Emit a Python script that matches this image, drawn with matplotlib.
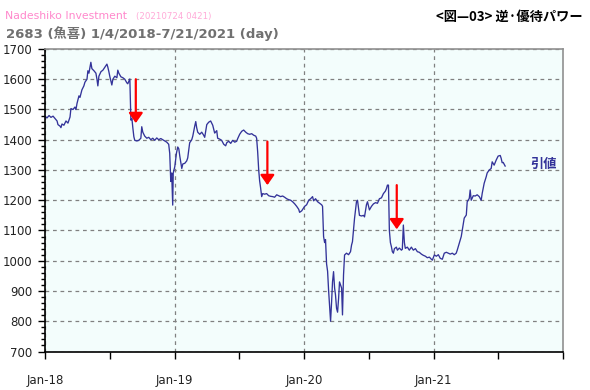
import matplotlib.pyplot as plt
import matplotlib.ticker as mtick

plt.rcParams['font.family'] = ['DejaVu Sans', 'Noto Sans CJK JP']

# Daily close (time in decimal years)
t_2018 = [2018.000, 2018.015, 2018.031, 2018.046, 2018.062, 2018.077, 2018.093, 2018.100, 2018.116, 2018.123,
          2018.131, 2018.146, 2018.162, 2018.177, 2018.193, 2018.200, 2018.216, 2018.231, 2018.239, 2018.247,
          2018.262, 2018.270, 2018.285, 2018.300, 2018.308, 2018.324, 2018.331, 2018.339, 2018.354, 2018.362,
          2018.378, 2018.393, 2018.401, 2018.408, 2018.416, 2018.432, 2018.447, 2018.462, 2018.478, 2018.485,
          2018.493, 2018.501, 2018.516, 2018.524, 2018.539, 2018.555, 2018.562, 2018.570, 2018.586, 2018.601,
          2018.616, 2018.632, 2018.639, 2018.655, 2018.663, 2018.671, 2018.678, 2018.686, 2018.693, 2018.709,
          2018.724, 2018.740, 2018.747, 2018.755, 2018.770, 2018.786, 2018.801, 2018.817, 2018.832, 2018.847,
          2018.863, 2018.878, 2018.894, 2018.909, 2018.924, 2018.940, 2018.955, 2018.963, 2018.971, 2018.978,
          2018.986, 2018.990]
p_2018 = [1478, 1472, 1480, 1474, 1478, 1470, 1462, 1450, 1445, 1440,
          1452, 1448, 1462, 1455, 1475, 1503, 1500, 1508, 1500, 1520,
          1545, 1540, 1565, 1578, 1590, 1600, 1628, 1620, 1656, 1635,
          1628, 1620, 1600, 1578, 1610, 1625, 1630, 1640, 1650, 1640,
          1625, 1608, 1581, 1600, 1610, 1605, 1630, 1620, 1608, 1605,
          1600, 1588, 1585, 1601, 1465, 1470, 1440, 1410, 1398, 1396,
          1398, 1405, 1443, 1425, 1412, 1405, 1408, 1400, 1405, 1398,
          1406, 1400, 1404, 1400, 1396, 1392, 1385, 1355, 1262, 1290,
          1184, 1290]

t_2019 = [2019.002, 2019.015, 2019.025, 2019.033, 2019.041, 2019.056, 2019.064, 2019.079, 2019.094, 2019.102,
          2019.117, 2019.133, 2019.141, 2019.156, 2019.164, 2019.171, 2019.179, 2019.195, 2019.210, 2019.225,
          2019.233, 2019.249, 2019.264, 2019.279, 2019.287, 2019.295, 2019.310, 2019.326, 2019.333, 2019.349,
          2019.364, 2019.380, 2019.395, 2019.403, 2019.418, 2019.434, 2019.449, 2019.465, 2019.480, 2019.488,
          2019.503, 2019.519, 2019.534, 2019.550, 2019.565, 2019.580, 2019.596, 2019.611, 2019.627, 2019.634,
          2019.642, 2019.650, 2019.657, 2019.665, 2019.673, 2019.681, 2019.696, 2019.711, 2019.727, 2019.742,
          2019.758, 2019.773, 2019.789, 2019.804, 2019.819, 2019.835, 2019.850, 2019.866, 2019.881, 2019.897,
          2019.912, 2019.928, 2019.943, 2019.959, 2019.966, 2019.982, 2019.997]
p_2019 = [1311, 1356, 1376, 1370, 1345, 1305, 1320, 1322, 1330, 1340,
          1390, 1400, 1412, 1445, 1460, 1440, 1425, 1418, 1425, 1415,
          1408, 1450, 1458, 1462, 1455, 1448, 1422, 1430, 1405, 1402,
          1398, 1385, 1380, 1390, 1395, 1388, 1398, 1392, 1395, 1404,
          1418, 1428, 1432, 1425, 1420, 1418, 1420, 1415, 1412, 1405,
          1360, 1300, 1265, 1240, 1212, 1222, 1220, 1222, 1215, 1213,
          1212, 1210, 1218, 1215, 1212, 1214, 1210, 1205, 1202, 1200,
          1195, 1188, 1180, 1170, 1160, 1165, 1175]

t_2020 = [2020.005, 2020.020, 2020.036, 2020.051, 2020.066, 2020.074, 2020.089, 2020.105, 2020.120, 2020.136,
          2020.143, 2020.151, 2020.159, 2020.166, 2020.174, 2020.182, 2020.190, 2020.197, 2020.205, 2020.213,
          2020.220, 2020.228, 2020.236, 2020.243, 2020.251, 2020.259, 2020.267, 2020.274, 2020.290, 2020.297,
          2020.305, 2020.313, 2020.328, 2020.344, 2020.359, 2020.367, 2020.374, 2020.390, 2020.405, 2020.413,
          2020.428, 2020.444, 2020.459, 2020.467, 2020.482, 2020.490, 2020.505, 2020.521, 2020.536, 2020.552,
          2020.567, 2020.582, 2020.598, 2020.613, 2020.628, 2020.636, 2020.644, 2020.652, 2020.659, 2020.667,
          2020.675, 2020.682, 2020.690, 2020.698, 2020.713, 2020.721, 2020.736, 2020.752, 2020.759, 2020.767,
          2020.775, 2020.782, 2020.798, 2020.813, 2020.829, 2020.844, 2020.860, 2020.875, 2020.890, 2020.906,
          2020.921, 2020.937, 2020.952, 2020.968, 2020.983, 2020.991]
p_2020 = [1180, 1185, 1200, 1205, 1212, 1198, 1205, 1195, 1190, 1185,
          1180, 1080, 1060, 1070, 990, 965, 900, 855, 800, 865,
          930, 964, 910, 887, 843, 830, 876, 930, 910, 821,
          953, 1019, 1025, 1020, 1030, 1052, 1063, 1140, 1195, 1200,
          1150, 1148, 1150, 1145, 1185, 1195, 1168, 1180, 1188, 1192,
          1190, 1205, 1208, 1222, 1230, 1238, 1250, 1250, 1100, 1060,
          1046, 1030, 1025, 1040, 1045, 1035, 1042, 1035, 1038, 1118,
          1060, 1041, 1045, 1035, 1045, 1035, 1040, 1030, 1028, 1022,
          1018, 1015, 1010, 1012, 1005, 1002]

t_2021 = [2021.006, 2021.022, 2021.037, 2021.052, 2021.068, 2021.083, 2021.099, 2021.114, 2021.129, 2021.145,
          2021.160, 2021.175, 2021.183, 2021.199, 2021.214, 2021.222, 2021.237, 2021.253, 2021.260, 2021.276,
          2021.283, 2021.291, 2021.307, 2021.322, 2021.337, 2021.353, 2021.368, 2021.376, 2021.391, 2021.407,
          2021.414, 2021.430, 2021.445, 2021.453, 2021.468, 2021.484, 2021.499, 2021.515, 2021.522, 2021.530,
          2021.538, 2021.553]
p_2021 = [1019, 1015, 1020, 1008, 1005, 1025, 1028, 1025, 1022, 1025,
          1020, 1025, 1035, 1058, 1080, 1102, 1141, 1151, 1195, 1206,
          1234, 1200, 1215, 1214, 1218, 1212, 1200, 1223, 1256, 1278,
          1290, 1300, 1305, 1327, 1316, 1333, 1346, 1348, 1339, 1324,
          1325, 1313]

t = t_2018 + t_2019 + t_2020 + t_2021
price = p_2018 + p_2019 + p_2020 + p_2021

# red arrows: ex-dividend drops
arrow_t = [2018.701, 2019.717, 2020.716]
arrow_from = [1600, 1394, 1250]
arrow_to = [1455, 1250, 1104]

x_ticks = [2018, 2019, 2020, 2021]
x_labels = ['Jan-18', 'Jan-19', 'Jan-20', 'Jan-21']

fig = plt.figure(figsize=(5.9, 3.9), dpi=100)
ax = fig.add_axes([0.0763, 0.0987, 0.8780, 0.7757])
ax.set_facecolor('#f3fdfc')

ax.plot(t, price, color='#333399', lw=0.95)

for xa, y0, y1 in zip(arrow_t, arrow_from, arrow_to):
    ax.annotate('', xy=(xa, y1), xytext=(xa, y0),
                arrowprops=dict(arrowstyle='-|>,head_length=0.6,head_width=0.42',
                                color='#ff0000', lw=1.6, shrinkA=0, shrinkB=0))

ax.set_xlim(2018, 2022)
ax.set_ylim(700, 1700)
ax.set_xticks(x_ticks)
ax.set_xticklabels(x_labels)
ax.xaxis.set_minor_locator(mtick.FixedLocator([2018.5, 2019.5, 2020.5, 2021.5, 2022]))
ax.yaxis.set_major_locator(mtick.MultipleLocator(100))
ax.yaxis.set_minor_locator(mtick.MultipleLocator(20))

ax.tick_params(axis='both', which='both', direction='out', colors='black', labelcolor='#222222', labelsize=8.5)
ax.tick_params(axis='y', which='major', length=5, width=1, pad=4)
ax.tick_params(axis='y', which='minor', length=3, width=1)
ax.tick_params(axis='x', which='both', length=5, width=1, pad=11)

ax.grid(True, which='major', color='#808080', linestyle=(0, (3, 3)), lw=0.9)
for s in ['left', 'bottom']:
    ax.spines[s].set_color('black')
    ax.spines[s].set_linewidth(1.2)
for s in ['top', 'right']:
    ax.spines[s].set_color('#909090')
    ax.spines[s].set_linewidth(1.2)

ax.text(2021.75, 1320, '引値', color='#333399', fontsize=9.5, fontweight='bold',
        family=['Noto Sans CJK JP', 'DejaVu Sans'], ha='left', va='center')

fig.text(0.009, 0.958, 'Nadeshiko Investment', color='#ff88cc', fontsize=7.8, va='center')
fig.text(0.231, 0.957, '(20210724 0421)', color='#ffaad8', fontsize=6.2, va='center')
fig.text(0.010, 0.915, '2683 (魚喜) 1/4/2018-7/21/2021 (day)', color='#707070', fontsize=9.5,
         fontweight='bold', va='center', family=['DejaVu Sans', 'Noto Sans CJK JP'])
fig.text(0.988, 0.957, '<図—03> 逆·優待パワー', color='black', fontsize=9.5, fontweight='bold',
         ha='right', va='center', family=['Noto Sans CJK JP', 'DejaVu Sans'])

fig.savefig('out.png', dpi=100, facecolor='white')
